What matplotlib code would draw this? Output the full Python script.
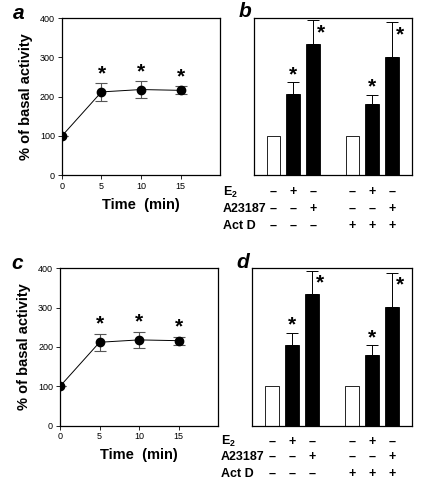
import numpy as np
import matplotlib
matplotlib.use("Agg")
from matplotlib import pyplot as plt

plt.rcParams['font.family'] = ['Liberation Sans', 'DejaVu Sans']

# time course data (panels a, c)
time_min = [0, 5, 10, 15]
activity = [100, 212, 218, 216]
activity_err = [0, 22, 21, 10]
time_sig = [False, True, True, True]

# bar data (panels b, d)
bar_pos = [1, 2, 3, 5, 6, 7]
bar_vals = [100, 206, 334, 100, 180, 302]
bar_err = [0, 30, 60, 0, 24, 87]
bar_sig = [False, True, True, False, True, True]
bar_fill = ['white', 'black', 'black', 'white', 'black', 'black']

row_labels = ['E$_\\mathregular{2}$', 'A23187', 'Act D']
row_signs = [['–', '+', '–', '–', '+', '–'],
             ['–', '–', '+', '–', '–', '+'],
             ['–', '–', '–', '+', '+', '+']]

fig = plt.figure(figsize=(4.26, 4.88), dpi=100)


def time_panel(rect, letter):
    ax = fig.add_axes(rect)
    ax.errorbar(time_min, activity, yerr=activity_err, color='black', lw=0.7,
                marker='o', ms=6, ecolor='#555555', elinewidth=0.8, capsize=4,
                capthick=0.8)
    for x, y, e, s in zip(time_min, activity, activity_err, time_sig):
        if s:
            ax.text(x, y + e, '*', ha='center', va='bottom', fontsize=15,
                    fontweight='bold')
    ax.set_xlim(0, 20)
    ax.set_ylim(0, 400)
    ax.set_xticks([0, 5, 10, 15])
    ax.set_yticks([0, 100, 200, 300, 400])
    ax.tick_params(labelsize=6.5, length=3, width=0.6, pad=2)
    ax.set_xlabel('Time  (min)', fontsize=10.5, fontweight='bold', labelpad=5)
    ax.set_ylabel('% of basal activity', fontsize=10.5, fontweight='bold',
                  labelpad=5)
    for sp in ax.spines.values():
        sp.set_linewidth(0.9)
    ax.text(-0.31, 1.03, letter, transform=ax.transAxes, fontsize=15,
            fontweight='bold', style='italic', ha='left', va='center')
    return ax


def bar_panel(rect, letter, row_y):
    ax = fig.add_axes(rect)
    ax.bar(bar_pos, bar_vals, width=0.7, color=bar_fill, edgecolor='black',
           linewidth=0.6)
    for x, y, e, s in zip(bar_pos, bar_vals, bar_err, bar_sig):
        if e > 0:
            ax.errorbar([x], [y], yerr=[[0], [e]], fmt='none', ecolor='black',
                        elinewidth=0.7, capsize=4, capthick=0.7)
        if not s:
            continue
        if e > 50:
            ax.text(x + 0.42, y + e - 55, '*', ha='center', va='bottom',
                    fontsize=15, fontweight='bold')
        else:
            ax.text(x, y + e - 4, '*', ha='center', va='bottom', fontsize=15,
                    fontweight='bold')
    ax.set_xlim(0, 8)
    ax.set_ylim(0, 400)
    ax.set_xticks([])
    ax.set_yticks([])
    for sp in ax.spines.values():
        sp.set_linewidth(0.9)
    trans = ax.get_xaxis_transform()
    for lab, signs, yy in zip(row_labels, row_signs, row_y):
        ax.text(-0.195, yy, lab, transform=ax.transAxes, fontsize=9,
                fontweight='bold', ha='left', va='center')
        for x, sg in zip(bar_pos, signs):
            ax.text(x, yy, sg, transform=trans, fontsize=9, fontweight='bold',
                    ha='center', va='center', clip_on=False)
    ax.text(-0.095, 1.04, letter, transform=ax.transAxes, fontsize=15,
            fontweight='bold', style='italic', ha='left', va='center')
    return ax


time_panel([0.1455, 0.641, 0.371, 0.322], 'a')
bar_panel([0.5955, 0.641, 0.371, 0.322], 'b', [-0.108, -0.217, -0.325])
time_panel([0.141, 0.128, 0.371, 0.322], 'c')
bar_panel([0.591, 0.128, 0.376, 0.322], 'd', [-0.104, -0.2, -0.31])

fig.savefig('out.png', dpi=100)
